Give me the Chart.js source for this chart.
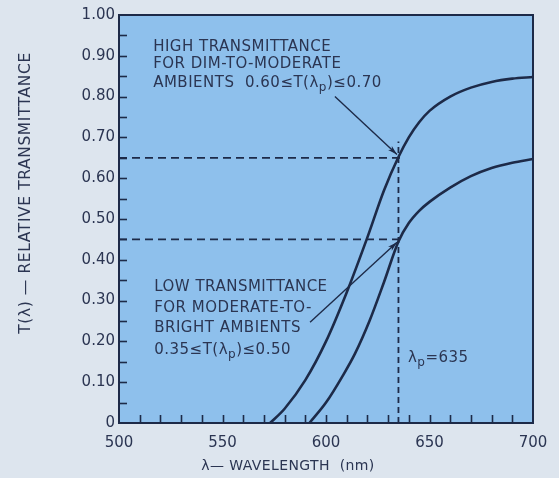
<!DOCTYPE html>
<html>
<head>
<meta charset="utf-8">
<script src="https://cdn.jsdelivr.net/npm/chart.js@4.4.0/dist/chart.umd.min.js"></script>
<style>
  html, body { margin: 0; padding: 0; background: #dde5ee; }
  #wrap { width: 559px; height: 478px; position: relative; }
</style>
</head>
<body>
<div id="wrap"><canvas id="c" width="559" height="478"></canvas></div>
<script>
// ---- data ----
const highWavelengths = [573, 580, 590, 600, 610, 620, 628, 635, 640, 645, 650, 660, 670, 680, 690, 700];
const highTransmittance = [0, 0.035, 0.105, 0.2, 0.32, 0.455, 0.57, 0.652, 0.70, 0.737, 0.765, 0.80, 0.822, 0.836, 0.844, 0.848];
const lowWavelengths = [592, 600, 608, 614, 621, 628, 635, 640, 645, 650, 660, 670, 680, 690, 700];
const lowTransmittance = [0, 0.05, 0.115, 0.17, 0.25, 0.345, 0.445, 0.49, 0.52, 0.542, 0.577, 0.605, 0.625, 0.638, 0.647];
const peakWavelength = 635;
const highLevel = 0.65;
const lowLevel = 0.45;
const xTickLabels = [500, 550, 600, 650, 700];
const yTickLabels = [0, 0.1, 0.2, 0.3, 0.4, 0.5, 0.6, 0.7, 0.8, 0.9, 1.0];

const INK = '#1d2a48';
const TEXT = '#2b3552';
const FONT = '"DejaVu Sans", "Liberation Sans", sans-serif';

function pts(xs, ys) { return xs.map((x, i) => ({ x: x, y: ys[i] })); }

const annotations = [
  { x: 516.5, y: 0.922, parts: [{ t: 'HIGH TRANSMITTANCE' }] },
  { x: 516.5, y: 0.879, parts: [{ t: 'FOR DIM-TO-MODERATE' }] },
  { x: 516.5, y: 0.834, parts: [{ t: 'AMBIENTS  0.60≤T(λ' }, { t: 'p', sub: true }, { t: ')≤0.70' }] },
  { x: 517, y: 0.333, parts: [{ t: 'LOW TRANSMITTANCE' }] },
  { x: 517, y: 0.282, parts: [{ t: 'FOR MODERATE-TO-' }] },
  { x: 517, y: 0.233, parts: [{ t: 'BRIGHT AMBIENTS' }] },
  { x: 517, y: 0.179, parts: [{ t: '0.35≤T(λ' }, { t: 'p', sub: true }, { t: ')≤0.50' }] },
  { x: 639.6, y: 0.16, parts: [{ t: 'λ' }, { t: 'p', sub: true }, { t: '=635' }] }
];
const arrows = [
  { from: [604.3, 0.80], to: [634.3, 0.658] },
  { from: [592.3, 0.247], to: [634.3, 0.443] }
];

function drawParts(ctx, x, y, parts, size) {
  let cx = x;
  parts.forEach(p => {
    if (p.sub) {
      ctx.font = (size * 0.8) + 'px ' + FONT;
      ctx.fillText(p.t, cx, y + size * 0.35);
    } else {
      ctx.font = size + 'px ' + FONT;
      ctx.fillText(p.t, cx, y);
    }
    cx += ctx.measureText(p.t).width;
  });
}

const decor = {
  id: 'decor',
  beforeDraw(chart) {
    const { ctx, chartArea: a } = chart;
    ctx.save();
    ctx.fillStyle = '#dde5ee';
    ctx.fillRect(0, 0, chart.width, chart.height);
    ctx.fillStyle = '#8ec0ec';
    ctx.fillRect(a.left, a.top, a.right - a.left, a.bottom - a.top);
    ctx.restore();
  },
  afterDraw(chart) {
    const { ctx, chartArea: a, scales } = chart;
    const xs = scales.x, ys = scales.y;
    ctx.save();
    // frame
    ctx.strokeStyle = INK;
    ctx.lineWidth = 2;
    ctx.strokeRect(a.left, a.top, a.right - a.left, a.bottom - a.top);
    // inward ticks
    ctx.lineWidth = 1.6;
    xs.ticks.forEach((t, i) => {
      if (t.value <= xs.min || t.value >= xs.max) return;
      const px = Math.round(xs.getPixelForTick(i)) + 0.5;
      ctx.beginPath(); ctx.moveTo(px, a.bottom); ctx.lineTo(px, a.bottom - 8); ctx.stroke();
    });
    ys.ticks.forEach((t, i) => {
      if (t.value <= ys.min + 1e-9 || t.value >= ys.max - 1e-9) return;
      const py = Math.round(ys.getPixelForTick(i)) + 0.5;
      ctx.beginPath(); ctx.moveTo(a.left, py); ctx.lineTo(a.left + 8, py); ctx.stroke();
    });
    // arrows
    ctx.strokeStyle = INK; ctx.fillStyle = INK; ctx.lineWidth = 1.4;
    arrows.forEach(ar => {
      const x1 = xs.getPixelForValue(ar.from[0]), y1 = ys.getPixelForValue(ar.from[1]);
      const x2 = xs.getPixelForValue(ar.to[0]), y2 = ys.getPixelForValue(ar.to[1]);
      ctx.beginPath(); ctx.moveTo(x1, y1); ctx.lineTo(x2, y2); ctx.stroke();
      const ang = Math.atan2(y2 - y1, x2 - x1), L = 10, W = 0.28;
      ctx.beginPath();
      ctx.moveTo(x2, y2);
      ctx.lineTo(x2 - L * Math.cos(ang - W), y2 - L * Math.sin(ang - W));
      ctx.lineTo(x2 - L * 0.7 * Math.cos(ang), y2 - L * 0.7 * Math.sin(ang));
      ctx.lineTo(x2 - L * Math.cos(ang + W), y2 - L * Math.sin(ang + W));
      ctx.closePath(); ctx.fill();
    });
    // annotations
    ctx.fillStyle = TEXT;
    ctx.textBaseline = 'middle';
    ctx.textAlign = 'left';
    ctx.letterSpacing = '0.5px';
    annotations.forEach(an => {
      drawParts(ctx, xs.getPixelForValue(an.x), ys.getPixelForValue(an.y), an.parts, 15);
    });
    // axis titles
    ctx.letterSpacing = '0.4px';
    ctx.font = '14px ' + FONT;
    ctx.textAlign = 'center';
    ctx.fillText('λ— WAVELENGTH  (nm)', 288, 466);
    ctx.letterSpacing = '0.6px';
    ctx.font = '15.5px ' + FONT;
    ctx.translate(26, 193);
    ctx.rotate(-Math.PI / 2);
    ctx.fillText('T(λ) — RELATIVE TRANSMITTANCE', 0, 0);
    ctx.restore();
  }
};

new Chart(document.getElementById('c'), {
  type: 'line',
  data: {
    datasets: [
      { label: 'high', data: pts(highWavelengths, highTransmittance), borderColor: INK, borderWidth: 2.6, pointRadius: 0, cubicInterpolationMode: 'monotone', fill: false },
      { label: 'low', data: pts(lowWavelengths, lowTransmittance), borderColor: INK, borderWidth: 2.6, pointRadius: 0, cubicInterpolationMode: 'monotone', fill: false },
      { label: 'hHigh', data: [{ x: 500, y: highLevel }, { x: peakWavelength + 3, y: highLevel }], borderColor: INK, borderWidth: 1.8, borderDash: [8, 5], pointRadius: 0 },
      { label: 'hLow', data: [{ x: 500, y: lowLevel }, { x: peakWavelength + 3, y: lowLevel }], borderColor: INK, borderWidth: 1.8, borderDash: [8, 5], pointRadius: 0 },
      { label: 'vPeak', data: [{ x: peakWavelength, y: 0 }, { x: peakWavelength, y: highLevel + 0.04 }], borderColor: INK, borderWidth: 1.8, borderDash: [6, 4], pointRadius: 0 }
    ]
  },
  options: {
    responsive: false,
    animation: false,
    events: [],
    layout: { padding: { top: 15, right: 26, left: 0, bottom: 0 } },
    plugins: { legend: { display: false }, tooltip: { enabled: false }, title: { display: false } },
    scales: {
      x: {
        type: 'linear', min: 500, max: 700,
        afterFit: s => { s.height = 55; },
        grid: { display: false, drawTicks: false },
        border: { display: false },
        ticks: {
          stepSize: 10, autoSkip: false, maxRotation: 0, padding: 11,
          color: TEXT, font: { family: FONT, size: 15 },
          callback: v => xTickLabels.includes(Math.round(v)) ? String(Math.round(v)) : ''
        }
      },
      y: {
        type: 'linear', min: 0, max: 1,
        afterFit: s => { s.width = 119; },
        grid: { display: false, drawTicks: false },
        border: { display: false },
        ticks: {
          stepSize: 0.05, autoSkip: false, padding: 4,
          color: TEXT, font: { family: FONT, size: 15 },
          callback: v => {
            const r = Math.round(v * 100) / 100;
            if (!yTickLabels.some(t => Math.abs(t - r) < 1e-6)) return '';
            return r === 0 ? '0' : r.toFixed(2);
          }
        }
      }
    }
  },
  plugins: [decor]
});
</script>
</body>
</html>
